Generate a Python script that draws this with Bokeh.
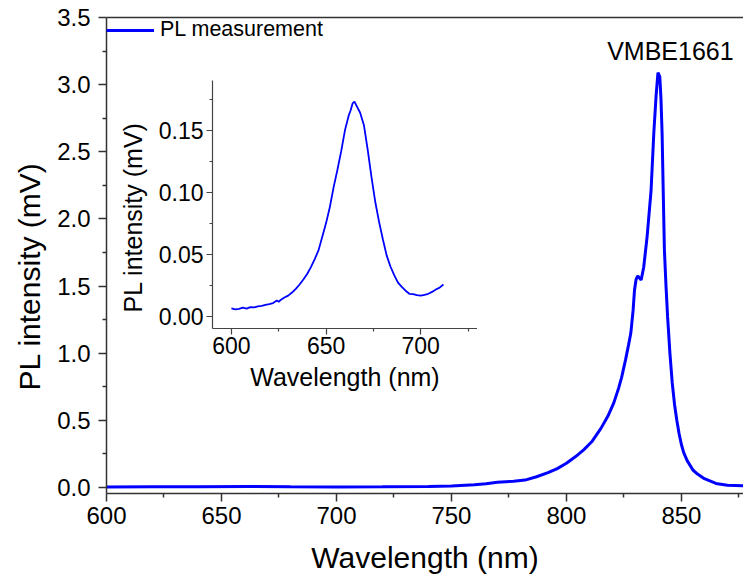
from bokeh.plotting import figure
from bokeh.models import Range1d, LinearAxis, Label, Legend, LegendItem, FixedTicker, NumeralTickFormatter, Title
from bokeh.layouts import column
from bokeh.embed import file_html
from bokeh.resources import INLINE

# ---- data ----
main_wl = [600, 620, 640, 662, 680, 700, 720, 740, 750, 760, 765, 770, 777, 782, 787,
           792, 796, 800, 804, 807.5, 811, 815, 818, 820.6, 822.7, 824, 825.7, 827, 828,
           829, 829.6, 830.3, 831, 831.8, 832.5, 833.6, 835.1, 836.8, 838, 839, 839.8,
           840.6, 841.1, 841.6, 842.1, 842.6, 843.3, 844, 845, 846, 847, 848, 849, 850,
           851, 852.5, 855, 857, 860, 865, 870, 877]
main_pl = [0.004, 0.005, 0.005, 0.008, 0.006, 0.004, 0.005, 0.008, 0.010, 0.020, 0.028, 0.038,
           0.047, 0.055, 0.080, 0.110, 0.140, 0.180, 0.230, 0.280, 0.340, 0.440, 0.530, 0.630,
           0.740, 0.820, 0.950, 1.060, 1.150, 1.320, 1.470, 1.550, 1.575, 1.560, 1.545, 1.640,
           1.870, 2.210, 2.640, 2.920, 3.090, 3.060, 2.900, 2.640, 2.200, 1.770, 1.500, 1.270,
           1.000, 0.780, 0.620, 0.500, 0.400, 0.320, 0.260, 0.200, 0.130, 0.100, 0.065, 0.030,
           0.017, 0.012]

inset_wl = [600, 602, 604, 606, 608, 610, 612, 614, 616, 618, 620, 622, 624, 625, 626, 628,
            630, 632, 634, 636, 638, 640, 642, 644, 646, 648, 650, 652, 654, 656, 658, 660,
            662, 663, 664, 665, 666, 668, 670, 672, 674, 676, 678, 680, 682, 684, 686, 688,
            690, 692, 694, 696, 698, 700, 702, 704, 706, 708, 710, 712]
inset_pl = [0.0062, 0.0055, 0.0058, 0.0068, 0.0060, 0.0072, 0.0070, 0.0078, 0.0082, 0.0090,
            0.0097, 0.0105, 0.0125, 0.0115, 0.0130, 0.0150, 0.0165, 0.0190, 0.0220, 0.0255,
            0.0295, 0.0340, 0.0395, 0.0460, 0.0530, 0.0640, 0.0750, 0.0880, 0.1040, 0.1180,
            0.1330, 0.1500, 0.1620, 0.1660, 0.1715, 0.1730, 0.1700, 0.1640, 0.1540, 0.1340,
            0.1120, 0.0920, 0.0760, 0.0620, 0.0490, 0.0400, 0.0330, 0.0270, 0.0235, 0.0205,
            0.0180, 0.0178, 0.0170, 0.0165, 0.0172, 0.0180, 0.0195, 0.0215, 0.0230, 0.0255]

main_xticks = [600, 650, 700, 750, 800, 850]
main_xminor = [625, 675, 725, 775, 825, 875]
main_yticks = [0.0, 0.5, 1.0, 1.5, 2.0, 2.5, 3.0, 3.5]
main_yminor = [0.25, 0.75, 1.25, 1.75, 2.25, 2.75, 3.25]
inset_xticks = [600, 650, 700]
inset_xminor = [625, 675, 725]
inset_yticks = [0.0, 0.05, 0.10, 0.15]
inset_yminor = [0.025, 0.075, 0.125, 0.175]

FONT = "Liberation Sans"
BLUE = "#0000FF"
AXC = "#333333"

# ---- main figure ----
p = figure(frame_width=637, frame_height=476, output_backend="svg", toolbar_location=None,
           x_range=Range1d(600, 877), y_range=Range1d(-0.045, 3.5),
           min_border_left=106, min_border_right=0, min_border_top=17, min_border_bottom=92)
p.outline_line_color = None
p.grid.visible = False
p.background_fill_color = "white"

r = p.line(main_wl, main_pl, line_color=BLUE, line_width=3)

for ax in (p.xaxis[0], p.yaxis[0]):
    ax.axis_line_color = AXC
    ax.axis_line_width = 1.5
    ax.major_tick_line_color = AXC
    ax.major_tick_line_width = 1.5
    ax.minor_tick_line_color = AXC
    ax.minor_tick_line_width = 1.5
    ax.major_tick_in = 0
    ax.major_tick_out = 8
    ax.minor_tick_in = 0
    ax.minor_tick_out = 4
    ax.major_label_text_font = FONT
    ax.major_label_text_font_size = "24px"
    ax.major_label_text_color = "black"
    ax.axis_label_text_font = FONT
    ax.axis_label_text_font_size = "30px"
    ax.axis_label_text_font_style = "normal"
    ax.axis_label_text_color = "black"

p.xaxis[0].ticker = FixedTicker(ticks=main_xticks, minor_ticks=main_xminor)
p.yaxis[0].ticker = FixedTicker(ticks=main_yticks, minor_ticks=main_yminor)
p.yaxis[0].formatter = NumeralTickFormatter(format="0.0")
p.xaxis[0].axis_label = "Wavelength (nm)"
p.xaxis[0].major_label_standoff = 5
p.xaxis[0].axis_label_standoff = 14
p.yaxis[0].major_label_standoff = 8

top = LinearAxis(ticker=FixedTicker(ticks=[]), axis_line_color=AXC, axis_line_width=1.5,
                 major_tick_line_color=None, minor_tick_line_color=None)
p.add_layout(top, "above")

# y-axis title as a side title, so that it can sit where the reference has it
p.add_layout(Title(text="PL intensity (mV)", align="left", offset=103, standoff=17,
                   text_font=FONT, text_font_size="30px", text_font_style="normal",
                   text_color="black"), "left")

p.add_layout(Label(x=845.2, y=3.249, text="VMBE1661", text_align="center",
                   text_baseline="alphabetic", text_font=FONT, text_font_size="25px",
                   text_color="black"))

legend = Legend(items=[LegendItem(label="PL measurement", renderers=[r])], location="top_left",
                glyph_width=48, glyph_height=22, label_height=22, label_standoff=6,
                label_text_font=FONT, label_text_font_size="21.5px", label_text_color="black",
                padding=0, margin=0, spacing=0, border_line_color=None,
                background_fill_alpha=0)
p.add_layout(legend)

# ---- inset figure (borders equal to the main figure's, since a column aligns them) ----
ins = figure(frame_width=265, frame_height=248, output_backend="svg", toolbar_location=None,
             x_range=Range1d(590, 730), y_range=Range1d(-0.01, 0.19),
             min_border_left=106, min_border_right=0, min_border_top=20, min_border_bottom=75)
ins.styles = {"position": "absolute", "left": "106px", "top": "60px"}
ins.background_fill_alpha = 0
ins.border_fill_alpha = 0
ins.outline_line_color = None
ins.grid.visible = False
ins.line(inset_wl, inset_pl, line_color=BLUE, line_width=1.8)

for ax in (ins.xaxis[0], ins.yaxis[0]):
    ax.axis_line_color = "#444444"
    ax.axis_line_width = 1.2
    ax.major_tick_line_color = "#444444"
    ax.major_tick_line_width = 1.2
    ax.minor_tick_line_color = "#444444"
    ax.minor_tick_line_width = 1.2
    ax.major_tick_in = 0
    ax.major_tick_out = 6
    ax.minor_tick_in = 0
    ax.minor_tick_out = 3
    ax.major_label_text_font = FONT
    ax.major_label_text_font_size = "23px"
    ax.major_label_text_color = "black"
    ax.axis_label_text_font = FONT
    ax.axis_label_text_font_size = "25px"
    ax.axis_label_text_font_style = "normal"
    ax.axis_label_text_color = "black"

ins.xaxis[0].ticker = FixedTicker(ticks=inset_xticks, minor_ticks=inset_xminor)
ins.yaxis[0].ticker = FixedTicker(ticks=inset_yticks, minor_ticks=inset_yminor)
ins.yaxis[0].formatter = NumeralTickFormatter(format="0.00")
ins.xaxis[0].axis_label = "Wavelength (nm)"
ins.xaxis[0].major_label_standoff = 2
ins.yaxis[0].major_label_standoff = 3
ins.xaxis[0].axis_label_standoff = 6

ins.add_layout(Title(text="PL intensity (mV)", align="left", offset=16, standoff=17,
                     text_font=FONT, text_font_size="25px", text_font_style="normal",
                     text_color="black"), "left")

layout = column(p, ins)
open("out.html", "w").write(file_html(layout, INLINE))
